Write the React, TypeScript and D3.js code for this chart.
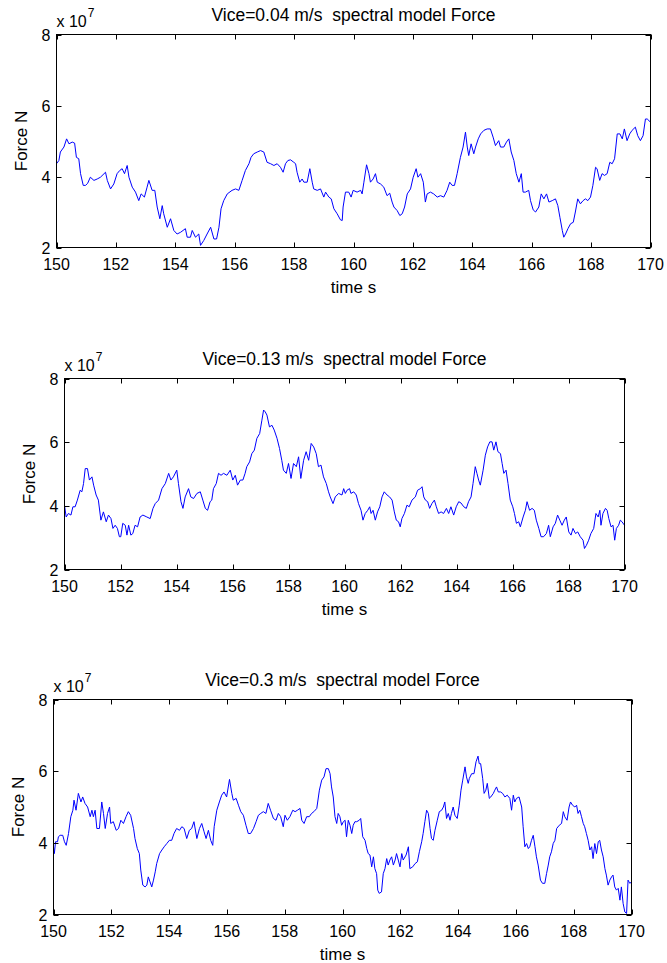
import React from "react";
import * as d3 from "d3";

// time axis and force axis (units of 1e7 N)
const xTicks = [150, 152, 154, 156, 158, 160, 162, 164, 166, 168, 170];
const yTicks = [2, 4, 6, 8];
const titles = [
  "Vice=0.04 m/s  spectral model Force",
  "Vice=0.13 m/s  spectral model Force",
  "Vice=0.3 m/s  spectral model Force",
];

// [time s, force x1e7 N]
const force004: [number, number][] = [
  [150.0, 4.36], [150.08, 4.45], [150.13, 4.69], [150.25, 4.83], [150.34, 5.06], [150.42, 4.92], [150.53, 4.97], [150.61, 4.94],
  [150.67, 4.54], [150.75, 4.5], [150.81, 4.08], [150.9, 3.75], [150.98, 3.75], [151.05, 3.81], [151.14, 3.98], [151.26, 3.89],
  [151.37, 3.93], [151.48, 3.98], [151.65, 4.12], [151.71, 3.89], [151.82, 3.65], [151.93, 3.79], [152.04, 4.08], [152.13, 4.17],
  [152.21, 4.22], [152.29, 4.08], [152.38, 4.31], [152.44, 3.98], [152.55, 3.7], [152.66, 3.56], [152.77, 3.32], [152.85, 3.51],
  [152.96, 3.42], [153.05, 3.7], [153.11, 3.89], [153.22, 3.61], [153.31, 3.61], [153.39, 3.14], [153.48, 2.81], [153.56, 3.18],
  [153.61, 2.95], [153.73, 2.57], [153.84, 2.81], [153.95, 2.48], [154.06, 2.38], [154.18, 2.43], [154.34, 2.53], [154.4, 2.29],
  [154.51, 2.29], [154.57, 2.48], [154.68, 2.29], [154.79, 2.38], [154.85, 2.06], [154.96, 2.2], [155.07, 2.38], [155.19, 2.57],
  [155.3, 2.24], [155.39, 2.24], [155.47, 2.57], [155.54, 3.09], [155.63, 3.32], [155.75, 3.51], [155.91, 3.61], [156.03, 3.65],
  [156.14, 3.61], [156.25, 3.89], [156.36, 4.17], [156.48, 4.36], [156.55, 4.54], [156.64, 4.64], [156.76, 4.69], [156.87, 4.73],
  [156.98, 4.69], [157.09, 4.4], [157.21, 4.36], [157.32, 4.31], [157.43, 4.36], [157.54, 4.26], [157.63, 4.12], [157.71, 4.36],
  [157.79, 4.45], [157.88, 4.47], [157.99, 4.4], [158.05, 4.36], [158.1, 4.12], [158.19, 3.84], [158.27, 3.93], [158.33, 3.84],
  [158.44, 3.84], [158.53, 4.22], [158.61, 3.84], [158.66, 3.65], [158.78, 3.61], [158.89, 3.65], [159.0, 3.42], [159.06, 3.56],
  [159.17, 3.42], [159.25, 3.37], [159.34, 3.09], [159.45, 2.95], [159.56, 2.78], [159.62, 2.76], [159.65, 3.14], [159.73, 3.56],
  [159.84, 3.56], [159.92, 3.42], [159.99, 3.61], [160.12, 3.56], [160.24, 3.61], [160.29, 3.51], [160.35, 3.84], [160.44, 4.33],
  [160.52, 4.08], [160.57, 3.84], [160.66, 3.93], [160.74, 4.08], [160.8, 3.84], [160.91, 3.79], [161.02, 3.7], [161.13, 3.46],
  [161.22, 3.53], [161.3, 3.28], [161.36, 3.14], [161.47, 3.04], [161.56, 2.9], [161.64, 2.95], [161.72, 3.14], [161.81, 3.51],
  [161.92, 3.65], [162.01, 3.98], [162.11, 4.22], [162.17, 3.98], [162.26, 4.08], [162.35, 3.84], [162.42, 3.28], [162.48, 3.51],
  [162.59, 3.56], [162.7, 3.51], [162.82, 3.42], [162.93, 3.46], [163.04, 3.42], [163.15, 3.61], [163.24, 3.84], [163.32, 3.75],
  [163.4, 3.75], [163.49, 4.08], [163.6, 4.54], [163.69, 4.83], [163.77, 5.25], [163.83, 4.83], [163.88, 4.59], [163.96, 4.92],
  [164.05, 4.64], [164.11, 4.83], [164.2, 5.06], [164.28, 5.2], [164.39, 5.3], [164.5, 5.34], [164.61, 5.34], [164.7, 5.11],
  [164.78, 4.87], [164.89, 5.01], [164.95, 4.83], [165.06, 4.83], [165.15, 4.97], [165.23, 5.06], [165.31, 4.69], [165.4, 4.45],
  [165.48, 4.08], [165.57, 3.84], [165.65, 4.08], [165.71, 3.56], [165.79, 3.56], [165.9, 3.61], [165.96, 3.32], [166.05, 3.06],
  [166.13, 3.0], [166.24, 3.14], [166.32, 3.51], [166.41, 3.37], [166.5, 3.51], [166.58, 3.28], [166.69, 3.32], [166.8, 3.37],
  [166.88, 3.18], [166.95, 2.85], [167.03, 2.48], [167.08, 2.29], [167.14, 2.38], [167.22, 2.53], [167.31, 2.67], [167.4, 2.71],
  [167.47, 3.0], [167.55, 3.37], [167.64, 3.23], [167.73, 3.32], [167.81, 3.37], [167.89, 3.32], [167.98, 3.42], [168.06, 3.75],
  [168.15, 4.26], [168.2, 4.22], [168.29, 3.89], [168.37, 4.08], [168.45, 4.03], [168.54, 4.08], [168.63, 4.4], [168.71, 4.36],
  [168.79, 4.5], [168.88, 5.2], [168.97, 5.2], [169.05, 5.06], [169.12, 5.34], [169.21, 5.01], [169.3, 5.2], [169.38, 5.3],
  [169.49, 5.39], [169.57, 5.15], [169.66, 5.01], [169.75, 5.15], [169.83, 5.62], [169.89, 5.62], [170.0, 5.53],
];

const force013: [number, number][] = [
  [150.0, 4.02], [150.06, 3.65], [150.14, 3.76], [150.23, 3.71], [150.3, 3.97], [150.38, 3.97], [150.46, 4.18], [150.56, 4.49],
  [150.62, 4.44], [150.68, 4.7], [150.74, 5.17], [150.82, 5.17], [150.89, 4.81], [150.98, 4.91], [151.04, 4.65], [151.13, 4.34],
  [151.21, 4.18], [151.3, 3.55], [151.39, 3.81], [151.49, 3.5], [151.57, 3.71], [151.66, 3.6], [151.73, 3.29], [151.81, 3.39],
  [151.89, 3.29], [151.96, 3.03], [152.01, 3.03], [152.08, 3.45], [152.17, 3.39], [152.23, 3.08], [152.29, 3.39], [152.37, 3.08],
  [152.44, 3.13], [152.52, 3.39], [152.61, 3.34], [152.7, 3.65], [152.8, 3.71], [152.94, 3.65], [153.06, 3.6], [153.16, 3.92],
  [153.24, 4.07], [153.36, 4.18], [153.48, 4.54], [153.6, 4.7], [153.72, 5.02], [153.8, 4.81], [153.89, 4.91], [154.01, 5.12],
  [154.07, 4.7], [154.16, 4.13], [154.23, 3.92], [154.31, 4.28], [154.43, 4.54], [154.51, 4.28], [154.61, 4.23], [154.73, 4.39],
  [154.85, 4.44], [154.94, 4.18], [155.03, 3.92], [155.11, 3.86], [155.2, 4.13], [155.26, 4.18], [155.32, 4.54], [155.42, 4.7],
  [155.5, 5.02], [155.59, 4.96], [155.68, 5.02], [155.8, 4.96], [155.92, 5.12], [156.01, 4.81], [156.1, 4.96], [156.18, 4.65],
  [156.28, 4.81], [156.37, 4.81], [156.45, 5.02], [156.51, 5.23], [156.61, 5.38], [156.69, 5.64], [156.78, 5.75], [156.87, 6.12],
  [156.97, 6.27], [157.05, 6.69], [157.11, 7.01], [157.17, 6.95], [157.23, 6.85], [157.32, 6.48], [157.41, 6.53], [157.49, 6.38],
  [157.59, 6.12], [157.68, 5.8], [157.76, 5.43], [157.82, 5.12], [157.92, 5.02], [158.0, 5.33], [158.09, 4.86], [158.18, 5.33],
  [158.28, 5.23], [158.36, 5.54], [158.44, 4.86], [158.54, 5.43], [158.63, 5.7], [158.72, 5.43], [158.81, 5.96], [158.9, 5.85],
  [158.99, 5.64], [159.07, 5.23], [159.16, 5.28], [159.25, 4.91], [159.35, 4.7], [159.43, 4.44], [159.49, 4.28], [159.59, 4.07],
  [159.67, 4.28], [159.79, 4.39], [159.91, 4.34], [159.97, 4.54], [160.03, 4.39], [160.09, 4.49], [160.18, 4.54], [160.23, 4.39],
  [160.33, 4.44], [160.42, 4.34], [160.5, 4.07], [160.59, 3.86], [160.66, 3.55], [160.74, 3.76], [160.83, 3.86], [160.9, 3.97],
  [160.95, 3.76], [161.02, 3.86], [161.1, 3.55], [161.18, 3.81], [161.26, 3.97], [161.34, 4.28], [161.42, 4.44], [161.52, 4.34],
  [161.61, 4.28], [161.7, 4.18], [161.78, 3.81], [161.85, 3.55], [161.93, 3.5], [161.99, 3.34], [162.05, 3.6], [162.14, 3.76],
  [162.23, 4.02], [162.31, 3.97], [162.41, 4.18], [162.53, 4.28], [162.61, 4.49], [162.71, 4.54], [162.77, 4.6], [162.83, 4.28],
  [162.89, 4.18], [162.97, 4.13], [163.04, 3.92], [163.12, 4.07], [163.21, 4.18], [163.28, 3.97], [163.36, 3.76], [163.45, 3.81],
  [163.54, 3.76], [163.64, 3.92], [163.72, 3.76], [163.8, 3.97], [163.9, 3.71], [163.99, 3.97], [164.08, 4.13], [164.16, 4.09],
  [164.26, 3.97], [164.35, 3.92], [164.43, 4.13], [164.52, 4.28], [164.59, 4.7], [164.67, 5.23], [164.73, 5.02], [164.79, 4.81],
  [164.85, 4.65], [164.95, 5.12], [165.03, 5.59], [165.11, 5.85], [165.19, 6.01], [165.27, 6.01], [165.33, 5.75], [165.41, 6.01],
  [165.48, 5.7], [165.57, 5.64], [165.63, 5.33], [165.69, 5.02], [165.77, 5.12], [165.84, 4.7], [165.92, 4.18], [166.01, 3.97],
  [166.07, 3.76], [166.14, 3.45], [166.22, 3.5], [166.28, 3.34], [166.38, 3.65], [166.46, 3.86], [166.52, 4.13], [166.61, 3.86],
  [166.7, 3.92], [166.78, 3.86], [166.85, 3.55], [166.94, 3.29], [167.02, 3.03], [167.11, 3.03], [167.21, 3.13], [167.29, 3.39],
  [167.35, 3.03], [167.45, 3.34], [167.53, 3.45], [167.61, 3.71], [167.69, 3.55], [167.77, 3.39], [167.85, 3.55], [167.92, 3.65],
  [168.01, 3.18], [168.09, 3.08], [168.16, 3.29], [168.25, 3.13], [168.33, 3.18], [168.42, 3.03], [168.52, 2.92], [168.57, 2.66],
  [168.64, 2.76], [168.72, 2.92], [168.8, 3.13], [168.9, 3.29], [168.98, 3.76], [169.06, 3.65], [169.12, 3.86], [169.16, 3.39],
  [169.23, 3.76], [169.32, 3.92], [169.38, 3.86], [169.44, 3.6], [169.52, 3.34], [169.59, 3.39], [169.65, 2.92], [169.71, 3.29],
  [169.79, 3.39], [169.85, 3.55], [169.91, 3.5], [170.0, 3.39],
];

const force030: [number, number][] = [
  [150.0, 3.89], [150.03, 3.7], [150.07, 4.03], [150.14, 4.03], [150.17, 4.17], [150.23, 4.21], [150.32, 4.21], [150.38, 4.03],
  [150.44, 3.93], [150.52, 4.26], [150.6, 4.73], [150.67, 4.91], [150.71, 5.19], [150.78, 4.91], [150.86, 5.38], [150.95, 5.14],
  [151.01, 5.28], [151.09, 5.1], [151.18, 5.0], [151.27, 4.73], [151.33, 4.91], [151.38, 4.73], [151.44, 4.91], [151.5, 4.4],
  [151.59, 4.4], [151.67, 5.14], [151.73, 4.82], [151.79, 4.4], [151.87, 4.82], [151.94, 5.0], [151.98, 4.54], [152.07, 4.59],
  [152.17, 4.35], [152.25, 4.4], [152.33, 4.63], [152.42, 4.54], [152.51, 4.73], [152.59, 4.87], [152.67, 4.77], [152.77, 4.4],
  [152.82, 4.12], [152.9, 3.84], [152.97, 3.7], [153.02, 3.24], [153.09, 2.82], [153.17, 2.77], [153.23, 2.82], [153.28, 3.05],
  [153.34, 2.91], [153.4, 2.77], [153.46, 2.96], [153.52, 3.19], [153.57, 3.42], [153.67, 3.7], [153.75, 3.8], [153.83, 3.89],
  [153.92, 3.98], [154.01, 4.07], [154.09, 4.07], [154.17, 4.26], [154.26, 4.4], [154.36, 4.35], [154.44, 4.45], [154.52, 4.4],
  [154.61, 4.12], [154.7, 4.35], [154.78, 4.4], [154.86, 4.59], [154.96, 4.12], [155.05, 4.4], [155.13, 4.54], [155.21, 4.31],
  [155.28, 4.12], [155.36, 4.35], [155.44, 4.07], [155.51, 3.93], [155.56, 4.45], [155.65, 4.91], [155.74, 5.14], [155.82, 5.33],
  [155.9, 5.42], [155.99, 5.28], [156.09, 5.77], [156.17, 5.38], [156.22, 5.19], [156.32, 5.24], [156.4, 5.05], [156.48, 4.87],
  [156.57, 4.77], [156.66, 4.49], [156.74, 4.26], [156.82, 4.26], [156.92, 4.4], [157.01, 4.59], [157.09, 4.77], [157.17, 4.82],
  [157.26, 4.87], [157.35, 4.82], [157.43, 5.1], [157.51, 4.91], [157.61, 4.68], [157.7, 4.63], [157.78, 4.82], [157.86, 4.73],
  [157.95, 4.45], [158.01, 4.77], [158.09, 4.63], [158.18, 4.73], [158.28, 4.91], [158.36, 4.87], [158.44, 4.91], [158.53, 4.96],
  [158.59, 4.63], [158.67, 4.54], [158.76, 4.73], [158.85, 4.73], [158.93, 4.82], [159.01, 4.87], [159.11, 4.96], [159.2, 5.47],
  [159.28, 5.75], [159.36, 5.84], [159.43, 6.07], [159.51, 6.07], [159.57, 5.93], [159.62, 5.56], [159.68, 5.28], [159.74, 4.73],
  [159.8, 4.54], [159.85, 4.82], [159.91, 4.73], [159.97, 4.49], [160.03, 4.59], [160.09, 4.63], [160.14, 4.17], [160.2, 4.63],
  [160.26, 4.49], [160.32, 4.26], [160.37, 4.49], [160.43, 4.59], [160.49, 4.59], [160.58, 4.63], [160.63, 4.68], [160.7, 4.17],
  [160.78, 4.07], [160.84, 3.84], [160.89, 3.7], [160.95, 3.66], [161.01, 3.33], [161.07, 3.61], [161.12, 3.28], [161.18, 3.14],
  [161.22, 2.68], [161.27, 2.59], [161.35, 2.63], [161.41, 3.14], [161.47, 3.28], [161.53, 3.56], [161.58, 3.38], [161.64, 3.52],
  [161.7, 3.61], [161.76, 3.38], [161.82, 3.52], [161.87, 3.7], [161.93, 3.52], [161.99, 3.33], [162.05, 3.7], [162.1, 3.52],
  [162.2, 3.66], [162.28, 3.89], [162.33, 3.28], [162.43, 3.33], [162.51, 3.42], [162.59, 3.47], [162.66, 3.75], [162.74, 4.03],
  [162.79, 4.26], [162.85, 4.59], [162.91, 4.91], [162.97, 4.82], [163.03, 4.4], [163.08, 4.12], [163.14, 4.07], [163.2, 4.35],
  [163.28, 4.63], [163.35, 4.87], [163.43, 4.91], [163.49, 5.0], [163.54, 5.14], [163.6, 4.68], [163.66, 4.82], [163.72, 4.63],
  [163.77, 4.82], [163.83, 5.0], [163.89, 4.77], [163.97, 4.68], [164.04, 5.05], [164.1, 5.47], [164.16, 5.75], [164.24, 6.12],
  [164.29, 5.84], [164.35, 5.66], [164.39, 5.8], [164.47, 5.93], [164.55, 5.93], [164.62, 6.26], [164.69, 6.42], [164.73, 6.21],
  [164.78, 6.21], [164.85, 5.8], [164.9, 5.38], [164.96, 5.47], [165.01, 5.66], [165.08, 5.24], [165.13, 5.28], [165.22, 5.38],
  [165.27, 5.47], [165.33, 5.56], [165.39, 5.42], [165.47, 5.42], [165.54, 5.38], [165.62, 5.28], [165.7, 5.33], [165.79, 5.24],
  [165.85, 4.91], [165.91, 5.33], [165.96, 5.14], [166.02, 5.24], [166.11, 5.28], [166.2, 5.0], [166.25, 4.45], [166.31, 3.89],
  [166.37, 3.98], [166.43, 3.84], [166.48, 3.89], [166.54, 4.07], [166.6, 4.21], [166.66, 3.89], [166.71, 3.61], [166.77, 3.38],
  [166.85, 2.96], [166.92, 2.87], [167.0, 2.87], [167.06, 3.14], [167.12, 3.38], [167.17, 3.61], [167.23, 3.75], [167.29, 3.98],
  [167.35, 4.07], [167.41, 4.4], [167.5, 4.49], [167.58, 4.54], [167.64, 4.87], [167.69, 4.73], [167.77, 4.63], [167.84, 5.0],
  [167.89, 5.14], [167.96, 5.05], [168.04, 5.0], [168.1, 5.05], [168.15, 4.82], [168.21, 4.91], [168.27, 4.73], [168.33, 4.54],
  [168.38, 4.45], [168.44, 4.26], [168.5, 4.07], [168.56, 3.8], [168.62, 3.89], [168.67, 3.56], [168.73, 3.98], [168.79, 3.7],
  [168.85, 4.03], [168.9, 4.07], [168.96, 3.8], [169.02, 3.61], [169.08, 3.28], [169.13, 3.1], [169.19, 2.82], [169.25, 2.96],
  [169.31, 3.05], [169.36, 3.1], [169.42, 2.77], [169.48, 2.68], [169.54, 2.73], [169.6, 2.4], [169.65, 2.77], [169.71, 2.31],
  [169.77, 2.07], [169.83, 2.03], [169.88, 2.96], [169.94, 2.87], [170.0, 2.91],
];

const series = [force004, force013, force030];

// axes boxes of the three subplots, in page pixels
const frames = [
  { left: 56.5, right: 650.5, top: 34.5, bottom: 247.5 },
  { left: 64.5, right: 624.5, top: 378.5, bottom: 569.5 },
  { left: 53.5, right: 631.5, top: 699.5, bottom: 914.5 },
];

const font = "'Liberation Sans', Arial, sans-serif";
const tickLen = 5;

type Frame = { left: number; right: number; top: number; bottom: number };

function Panel({ data, title, f }: { data: [number, number][]; title: string; f: Frame }) {
  const x = d3.scaleLinear().domain([150, 170]).range([f.left, f.right]);
  const y = d3.scaleLinear().domain([2, 8]).range([f.bottom, f.top]);
  const line = d3
    .line<[number, number]>()
    .x((d) => x(d[0]))
    .y((d) => y(d[1]));
  const cx = (f.left + f.right) / 2;
  const cy = (f.top + f.bottom) / 2;

  return (
    <g fontFamily={font} fill="#000">
      <path d={line(data) || ""} fill="none" stroke="#0000ff" strokeWidth={1} />
      <rect x={f.left} y={f.top} width={f.right - f.left} height={f.bottom - f.top} fill="none" stroke="#000" strokeWidth={1} />
      {xTicks.map((t) => (
        <g key={"x" + t}>
          <line x1={Math.round(x(t)) + 0.5} x2={Math.round(x(t)) + 0.5} y1={f.bottom} y2={f.bottom - tickLen} stroke="#000" />
          <line x1={Math.round(x(t)) + 0.5} x2={Math.round(x(t)) + 0.5} y1={f.top} y2={f.top + tickLen} stroke="#000" />
          <text x={x(t)} y={f.bottom + 22} fontSize={16} textAnchor="middle">
            {t}
          </text>
        </g>
      ))}
      {yTicks.map((v) => (
        <g key={"y" + v}>
          <line x1={f.left} x2={f.left + tickLen} y1={Math.round(y(v)) + 0.5} y2={Math.round(y(v)) + 0.5} stroke="#000" />
          <line x1={f.right} x2={f.right - tickLen} y1={Math.round(y(v)) + 0.5} y2={Math.round(y(v)) + 0.5} stroke="#000" />
          <text x={f.left - 6} y={y(v) + 6} fontSize={16} textAnchor="end">
            {v}
          </text>
        </g>
      ))}
      <text x={f.left} y={f.top - 8} fontSize={16}>
        x 10
        <tspan dx={1} dy={-10} fontSize={12}>
          7
        </tspan>
      </text>
      <text x={cx} y={f.top - 14} fontSize={17.5} textAnchor="middle" style={{ whiteSpace: "pre" }}>
        {title}
      </text>
      <text x={cx} y={f.bottom + 45} fontSize={17} textAnchor="middle">
        time s
      </text>
      <text transform={`translate(${f.left - 30},${cy}) rotate(-90)`} fontSize={17} textAnchor="middle">
        Force N
      </text>
    </g>
  );
}

export default function App() {
  return (
    <svg
      width={667}
      height={963}
      style={{ position: "absolute", left: 0, top: 0, background: "#fff" }}
    >
      <rect width={667} height={963} fill="#fff" />
      {frames.map((f, i) => (
        <Panel key={i} data={series[i]} title={titles[i]} f={f} />
      ))}
    </svg>
  );
}
